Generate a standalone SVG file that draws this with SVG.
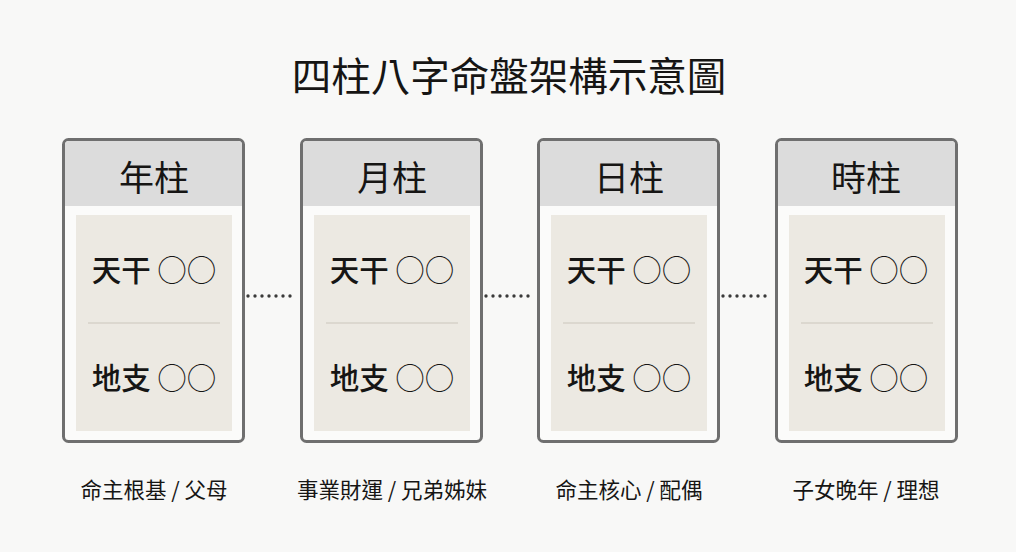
<svg xmlns="http://www.w3.org/2000/svg" width="1016" height="552" viewBox="0 0 1016 552">
<style>
text{font-family:"Noto Sans CJK TC","Noto Sans CJK SC","Noto Sans",sans-serif;fill:#161514;text-anchor:middle;dominant-baseline:central}
.title{font-size:39.5px;font-weight:400}
.head{font-size:35px;font-weight:400}
.item{font-size:29.5px;font-weight:500}
.c{font-weight:300}
.note{font-size:21.5px;font-weight:400}
.card{fill:#fbfbfa;stroke:#6f6f6f;stroke-width:3}
.hd{fill:#dcdcdc}
.panel{fill:#ece9e2}
.div{stroke:#cbc6bc;stroke-width:1}
.conn{stroke:#3a3a3a;stroke-width:3.4;stroke-linecap:round;stroke-dasharray:0 7;fill:none}
</style>
<rect width="1016" height="552" fill="#f8f8f7"/>
<text class="title" x="509" y="73">四柱八字命盤架構示意圖</text>
<g id="connectors">
<line class="conn" x1="248" y1="296" x2="297" y2="296"/>
<line class="conn" x1="486" y1="296" x2="535" y2="296"/>
<line class="conn" x1="723" y1="296" x2="772" y2="296"/>
</g>
<g id="year">
<rect class="card" x="63.5" y="139.5" width="180" height="302" rx="5"/>
<path class="hd" d="M65,145 a4,4 0 0 1 4,-4 h169 a4,4 0 0 1 4,4 v61 h-177 z"/>
<rect class="panel" x="76" y="215" width="156" height="216"/>
<line class="div" x1="88" y1="323" x2="220" y2="323"/>
<text class="head" x="154" y="175">年柱</text>
<text class="item" x="154" y="268">天干 <tspan class="c">○○</tspan></text>
<text class="item" x="154" y="376">地支 <tspan class="c">○○</tspan></text>
</g>
<g id="month">
<rect class="card" x="301.5" y="139.5" width="180" height="302" rx="5"/>
<path class="hd" d="M303,145 a4,4 0 0 1 4,-4 h169 a4,4 0 0 1 4,4 v61 h-177 z"/>
<rect class="panel" x="314" y="215" width="156" height="216"/>
<line class="div" x1="326" y1="323" x2="458" y2="323"/>
<text class="head" x="392" y="175">月柱</text>
<text class="item" x="392" y="268">天干 <tspan class="c">○○</tspan></text>
<text class="item" x="392" y="376">地支 <tspan class="c">○○</tspan></text>
</g>
<g id="day">
<rect class="card" x="538.5" y="139.5" width="180" height="302" rx="5"/>
<path class="hd" d="M540,145 a4,4 0 0 1 4,-4 h169 a4,4 0 0 1 4,4 v61 h-177 z"/>
<rect class="panel" x="551" y="215" width="156" height="216"/>
<line class="div" x1="563" y1="323" x2="695" y2="323"/>
<text class="head" x="629" y="175">日柱</text>
<text class="item" x="629" y="268">天干 <tspan class="c">○○</tspan></text>
<text class="item" x="629" y="376">地支 <tspan class="c">○○</tspan></text>
</g>
<g id="hour">
<rect class="card" x="776.5" y="139.5" width="180" height="302" rx="5"/>
<path class="hd" d="M778,145 a4,4 0 0 1 4,-4 h169 a4,4 0 0 1 4,4 v61 h-177 z"/>
<rect class="panel" x="789" y="215" width="156" height="216"/>
<line class="div" x1="801" y1="323" x2="933" y2="323"/>
<text class="head" x="866" y="175">時柱</text>
<text class="item" x="866" y="268">天干 <tspan class="c">○○</tspan></text>
<text class="item" x="866" y="376">地支 <tspan class="c">○○</tspan></text>
</g>
<g id="notes">
<text class="note" x="154" y="488">命主根基 / 父母</text>
<text class="note" x="392" y="488">事業財運 / 兄弟姊妹</text>
<text class="note" x="629" y="488">命主核心 / 配偶</text>
<text class="note" x="866" y="488">子女晚年 / 理想</text>
</g>
</svg>
